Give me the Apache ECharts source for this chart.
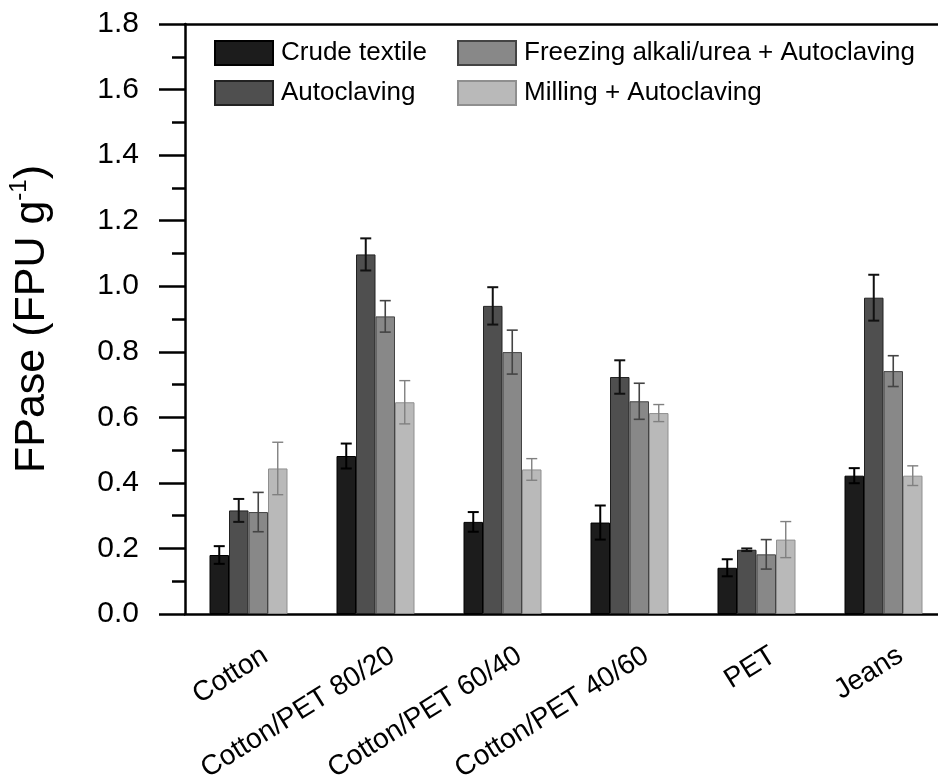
<!DOCTYPE html>
<html>
<head>
<meta charset="utf-8">
<script src="https://cdn.jsdelivr.net/npm/echarts@6/dist/echarts.min.js"></script>
<style>html,body{margin:0;padding:0;background:#fff;}#c{width:938px;height:775px;}</style>
</head>
<body>
<div id="c"></div>
<script>
const categories = ['Cotton', 'Cotton/PET 80/20', 'Cotton/PET 60/40', 'Cotton/PET 40/60', 'PET', 'Jeans'];
const seriesNames = ['Crude textile', 'Autoclaving', 'Freezing alkali/urea + Autoclaving', 'Milling + Autoclaving'];
const crude = [0.180, 0.482, 0.281, 0.279, 0.141, 0.422];
const crudeErr = [0.027, 0.038, 0.030, 0.052, 0.026, 0.023];
const autoclaving = [0.316, 1.097, 0.940, 0.723, 0.196, 0.965];
const autoclavingErr = [0.035, 0.049, 0.057, 0.051, 0.004, 0.070];
const freezing = [0.311, 0.908, 0.799, 0.649, 0.182, 0.741];
const freezingErr = [0.060, 0.048, 0.067, 0.055, 0.045, 0.047];
const milling = [0.444, 0.646, 0.441, 0.613, 0.227, 0.422];
const millingErr = [0.080, 0.066, 0.033, 0.026, 0.055, 0.030];
const yTicks = [0, 0.2, 0.4, 0.6, 0.8, 1.0, 1.2, 1.4, 1.6, 1.8];

const values = [crude, autoclaving, freezing, milling];
const errs = [crudeErr, autoclavingErr, freezingErr, millingErr];
const fills = ['#1c1c1c', '#4f4f4f', '#888888', '#b9b9b9'];
const borders = ['#000000', '#222222', '#444444', '#8f8f8f'];
const errColors = ['#000000', '#111111', '#444444', '#808080'];
const errWidths = [2, 2, 1.6, 1.4];
const BW = 19.5;

const chart = echarts.init(document.getElementById('c'), null, {renderer: 'canvas'});
const FONT = 'Liberation Sans, Arial, sans-serif';

const series = [];
values.forEach((v, i) => {
  series.push({
    name: seriesNames[i], type: 'bar', data: v, barWidth: BW, barGap: '0%',
    itemStyle: {color: fills[i], borderColor: borders[i], borderWidth: 1},
    emphasis: {disabled: true}, z: 2
  });
});
values.forEach((v, i) => {
  series.push({
    name: 'err' + i, type: 'custom', z: 5, silent: true,
    data: v.map((val, k) => [k, val, errs[i][k]]),
    renderItem: function (params, api) {
      const k = api.value(0), val = api.value(1), e = api.value(2);
      const off = (i - 1.5) * BW;
      const top = api.coord([k, val + e]);
      const bot = api.coord([k, val - e]);
      const x = top[0] + off;
      const cap = 5.5;
      const st = {stroke: errColors[i], lineWidth: errWidths[i]};
      return {type: 'group', children: [
        {type: 'line', shape: {x1: x, y1: top[1], x2: x, y2: bot[1]}, style: st},
        {type: 'line', shape: {x1: x - cap, y1: top[1], x2: x + cap, y2: top[1]}, style: st},
        {type: 'line', shape: {x1: x - cap, y1: bot[1], x2: x + cap, y2: bot[1]}, style: st}
      ]};
    }
  });
});

const legendCommon = {
  orient: 'vertical', itemWidth: 58, itemHeight: 24, itemGap: 14, icon: 'rect', padding: 0,
  textStyle: {fontFamily: FONT, fontSize: 26, color: '#000', padding: [0, 0, 0, 3]},
  selectedMode: false
};

chart.setOption({
  animation: false,
  backgroundColor: '#fff',
  textStyle: {fontFamily: FONT},
  grid: {left: 185, right: -9, top: 24, bottom: 161, containLabel: false, outerBoundsMode: 'none'},
  legend: [
    Object.assign({}, legendCommon, {data: [seriesNames[0], seriesNames[1]], left: 214, top: 40}),
    Object.assign({}, legendCommon, {data: [seriesNames[2], seriesNames[3]], left: 457, top: 40})
  ],
  xAxis: [{
    type: 'category', data: categories, position: 'bottom',
    axisLine: {lineStyle: {color: '#000', width: 2.5}},
    axisTick: {show: false},
    axisLabel: {interval: 0, rotate: 32, margin: 50, fontSize: 28, color: '#000', fontFamily: FONT, padding: [0, -20, 0, 0]},
    splitLine: {show: false}
  }, {
    type: 'category', data: categories, position: 'top',
    axisLine: {lineStyle: {color: '#000', width: 2.5}},
    axisTick: {show: false}, axisLabel: {show: false}, splitLine: {show: false}
  }],
  yAxis: {
    type: 'value', min: 0, max: 1.8, interval: 0.2,
    name: '{a|FPase (FPU g}{b|-1}{a|)}', nameLocation: 'middle', nameGap: 128, nameRotate: 90,
    nameTextStyle: {
      rich: {
        a: {fontSize: 43, fontFamily: FONT, color: '#000', lineHeight: 50},
        b: {fontSize: 24, fontFamily: FONT, color: '#000', verticalAlign: 'top', lineHeight: 50, padding: [0, 0, 20, 0]}
      }
    },
    axisLine: {show: true, lineStyle: {color: '#000', width: 2.5}},
    axisTick: {show: true, inside: false, length: 26, lineStyle: {color: '#000', width: 2.5}},
    minorTick: {show: true, splitNumber: 2, length: 13, lineStyle: {color: '#000', width: 2.5}},
    axisLabel: {
      margin: 46, fontSize: 30, color: '#000', fontFamily: FONT,
      formatter: function (v) {
        const t = yTicks.find(y => Math.abs(y - v) < 1e-6);
        return (t === undefined ? v : t).toFixed(1);
      }
    },
    splitLine: {show: false}
  },
  series: series
});
</script>
</body>
</html>
